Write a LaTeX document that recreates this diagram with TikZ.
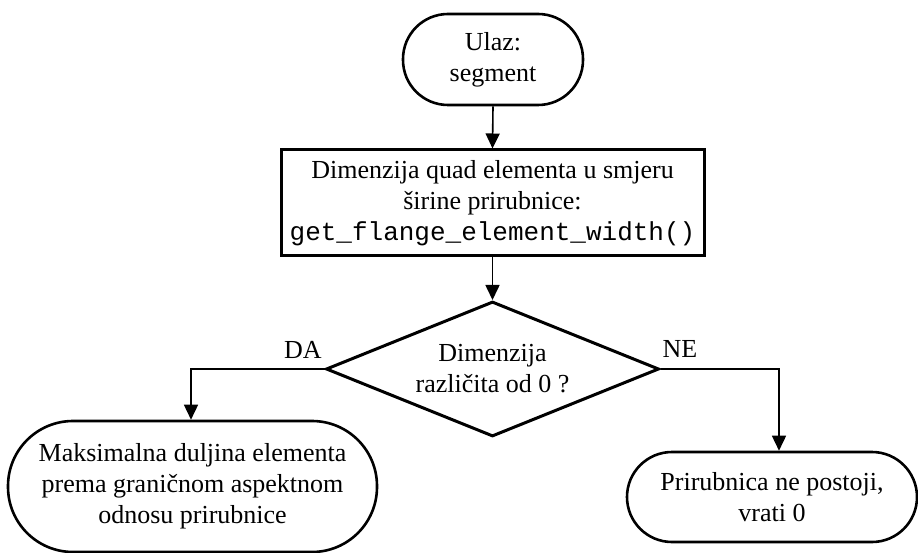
\documentclass[tikz,border=0pt]{standalone}
\usepackage{fontspec}
\setmainfont{Liberation Serif}
\setmonofont{Liberation Mono}
\usetikzlibrary{shapes.geometric,arrows.meta}
\begin{document}
\begin{tikzpicture}[x=1pt,y=-1pt,
  every node/.style={font=\fontsize{26}{31}\selectfont, align=center},
  term/.style={draw, line width=2.6pt, rectangle, inner sep=0pt},
  procbox/.style={draw, line width=3pt, rectangle, inner sep=0pt},
  decision/.style={draw, line width=3pt, diamond, inner sep=1pt, shape aspect=2.47,
    minimum width=333pt, minimum height=135pt},
  conn/.style={line width=1.6pt, -{Triangle[length=15pt,width=14pt]}},
  lbl/.style={anchor=base, inner sep=0pt}
]
\useasboundingbox (0,0) rectangle (918,553);

\node[term, rounded corners=45pt, minimum width=180pt, minimum height=91pt] (start) at (493,59.5) {Ulaz:\\segment};
\node[procbox, minimum width=423pt, minimum height=106pt] (box) at (492.5,203)
  {Dimenzija quad elementa u smjeru\\širine prirubnice:\\\texttt{get\_flange\_element\_width()}};
\node[decision] (dec) at (492.5,369) {Dimenzija\\različita od 0 ?};
\node[term, rounded corners=65pt, minimum width=369pt, minimum height=131pt] (left) at (192.5,486.5)
  {Maksimalna duljina elementa\\prema graničnom aspektnom\\odnosu prirubnice};
\node[term, rounded corners=45pt, minimum width=290pt, minimum height=90pt] (right) at (772,497)
  {Prirubnica ne postoji,\\vrati 0};

\draw[conn] (start.south) -- (box.north);
\draw[conn] (box.south) -- (dec.north);
\draw[conn] (dec.west) -| ([xshift=-1.5pt]left.north);
\draw[conn] (dec.east) -| ([xshift=7pt]right.north);

\node[lbl] (da) at (303,358) {DA};
\node[lbl] (ne) at (680,357) {NE};
\end{tikzpicture}
\end{document}
